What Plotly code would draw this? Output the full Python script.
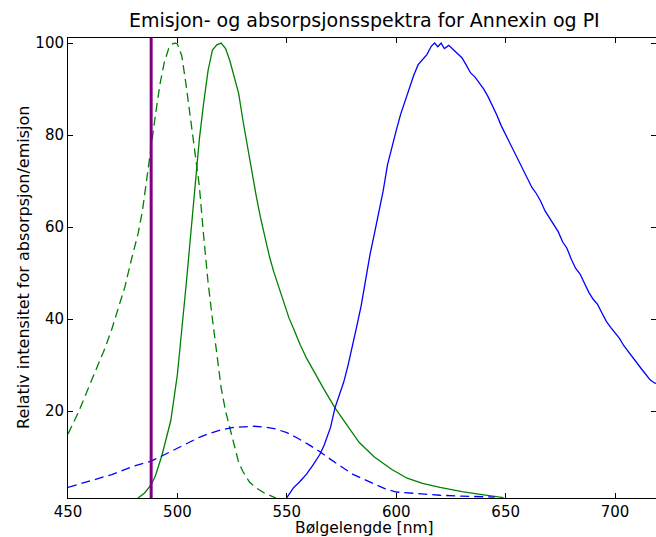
import plotly.graph_objects as go

# Annexin (FITC) absorption (green dashed)
annexin_abs_x = [450, 452, 455, 458, 461, 464, 467, 470, 473, 476, 479, 482, 484, 486, 488, 490, 492, 494, 496, 498, 499, 500,
                 502, 504, 506, 508, 510, 512, 514, 516, 518, 520, 522, 524, 526, 528, 530, 533, 536, 540, 543, 545]
annexin_abs_y = [15, 17, 20, 23.5, 27, 30.5, 33.8, 37.8, 42.2, 47, 53, 58.5, 63.5, 70, 77.5, 84.5, 91, 95.8, 98.8, 99.9, 100, 99.8,
                 97.2, 90.8, 83.8, 77, 69, 58, 48, 40, 32, 25, 20, 16.3, 12, 8.8, 6.8, 4.5, 3.3, 2.1, 1.5, 1.1]

# Annexin (FITC) emission (green solid)
annexin_em_x = [482, 485, 488, 490, 493, 495, 497, 500, 502, 504, 506, 508, 510, 512, 514, 516, 518, 520, 522, 524, 526, 528,
                530, 532, 534, 536, 538, 540, 542, 544, 547, 551, 553, 556, 559, 563, 567, 572, 578, 583, 590, 598, 605,
                612, 620, 630, 640, 649]
annexin_em_y = [1.1, 2.2, 4, 6, 10.5, 14, 18, 28, 37, 47.5, 58, 69, 79, 87, 94, 98.5, 99.6, 100, 98.8, 96.1, 92.7, 89,
                83, 77.5, 72, 66.8, 62, 57.8, 53.7, 50.3, 46, 40.2, 38, 34.5, 31.5, 28, 24.7, 20.7, 16.5, 13.2, 10, 7.3, 5.4,
                4.3, 3.4, 2.5, 1.8, 1.2]

# PI absorption (blue dashed)
pi_abs_x = [450, 459, 470, 480, 488, 494, 500, 505, 510, 515, 520, 525, 530, 535, 540, 545, 550, 555, 560, 565, 570,
            575, 580, 585, 590, 595, 600, 610, 620, 630, 645]
pi_abs_y = [3.4, 4.7, 6.2, 8.0, 9.1, 10.5, 11.9, 13.1, 14.3, 15.2, 15.9, 16.4, 16.6, 16.7, 16.5, 16.1, 15.3, 14.1, 12.7,
            11.2, 9.5, 7.8, 6.3, 5.2, 4.1, 3.1, 2.4, 2.0, 1.7, 1.5, 1.3]

# PI emission (blue solid)
pi_em_x = [550, 553, 556, 559, 562, 565, 567, 570, 572, 574, 576, 578, 580, 582, 584, 586, 588, 590, 592, 594, 596, 598,
           600, 602, 604, 606, 608, 610, 612, 614, 616, 617.5, 619, 620.5, 622, 624, 626, 628, 630, 632, 634, 636, 638,
           640, 642, 644, 646, 648, 650, 652, 654, 656, 658, 660, 662, 664, 666, 668, 670, 672, 674, 676, 678, 680,
           682, 684, 686, 688, 690, 692, 694, 696, 698, 700, 702, 704, 706, 708, 710, 712, 714, 716, 718, 719]
pi_em_y = [1.2, 3.3, 4.7, 6.3, 8.3, 10.5, 12.5, 16.5, 20.7, 23.5, 26.3, 30, 34, 38.5, 43, 49, 54, 58.5, 63, 67.8, 73.5, 77.5,
           81, 84.5, 87.5, 90.5, 93, 95.3, 96.5, 97.5, 99.3, 100, 99.2, 100, 98.8, 99.5, 98.6, 97.8, 96.8, 95.2, 93.5, 92.6,
           91.2, 90.0, 88.3, 86.4, 84.3, 82.0, 80.1, 78.3, 76.4, 74.5, 72.5, 70.5, 68.6, 67.3, 65.6, 63.5, 62, 60.5, 59,
           56.8, 55.4, 53, 51, 49.8, 47.6, 45.8, 44.3, 43.2, 41.3, 39.5, 38.2, 37, 35.8, 34.2, 32.9, 31.6, 30.5, 29.2,
           28.0, 26.8, 26.1, 26.0]

laser_nm = 488
x_ticks = [450, 500, 550, 600, 650, 700]
y_ticks = [20, 40, 60, 80, 100]

title = "Emisjon- og absorpsjonsspektra for Annexin og PI"
x_label = "Bølgelengde [nm]"
y_label = "Relativ intensitet for absorpsjon/emisjon"

GREEN = "#008000"
BLUE = "#0000ff"
PURPLE = "#800080"
DASH = "9px,5px"

fig = go.Figure()
fig.add_trace(go.Scatter(x=annexin_abs_x, y=annexin_abs_y, mode="lines",
                         line=dict(color=GREEN, width=1.3, dash=DASH)))
fig.add_trace(go.Scatter(x=annexin_em_x, y=annexin_em_y, mode="lines",
                         line=dict(color=GREEN, width=1.3)))
fig.add_trace(go.Scatter(x=pi_abs_x, y=pi_abs_y, mode="lines",
                         line=dict(color=BLUE, width=1.3, dash=DASH)))
fig.add_trace(go.Scatter(x=pi_em_x, y=pi_em_y, mode="lines",
                         line=dict(color=BLUE, width=1.3)))
fig.add_trace(go.Scatter(x=[laser_nm, laser_nm], y=[0, 110], mode="lines",
                         line=dict(color=PURPLE, width=3)))

axis_common = dict(showgrid=False, zeroline=False, showline=True, linecolor="black", linewidth=1,
                   mirror="ticks", ticks="inside", ticklen=5, tickwidth=1, tickcolor="black",
                   tickfont=dict(family="DejaVu Sans", size=15, color="black"))

fig.update_xaxes(range=[450, 718.7], tickvals=x_ticks, ticktext=[str(v) for v in x_ticks], **axis_common)
fig.update_yaxes(range=[1.1, 101.1], tickvals=y_ticks, ticktext=[str(v) for v in y_ticks], **axis_common)

fig.update_layout(
    width=656, height=537,
    margin=dict(l=68, r=0, t=38, b=39),
    paper_bgcolor="white", plot_bgcolor="white",
    showlegend=False,
    font=dict(family="DejaVu Sans", color="black"),
    annotations=[
        dict(text=title, xref="paper", yref="paper", x=0.505, y=1, yshift=18, showarrow=False,
             xanchor="center", yanchor="middle", font=dict(size=19)),
        dict(text=x_label, xref="paper", yref="paper", x=0.505, y=0, yshift=-30, showarrow=False,
             xanchor="center", yanchor="middle", font=dict(size=15.5)),
        dict(text=y_label, xref="paper", yref="paper", x=0, xshift=-45, y=0.5, showarrow=False,
             textangle=-90, xanchor="center", yanchor="middle", font=dict(size=16)),
    ],
)

fig.write_html("out.html", config={"displayModeBar": False},
               post_script="document.body.style.margin='0';document.body.style.padding='0';document.body.style.overflow='hidden';")
